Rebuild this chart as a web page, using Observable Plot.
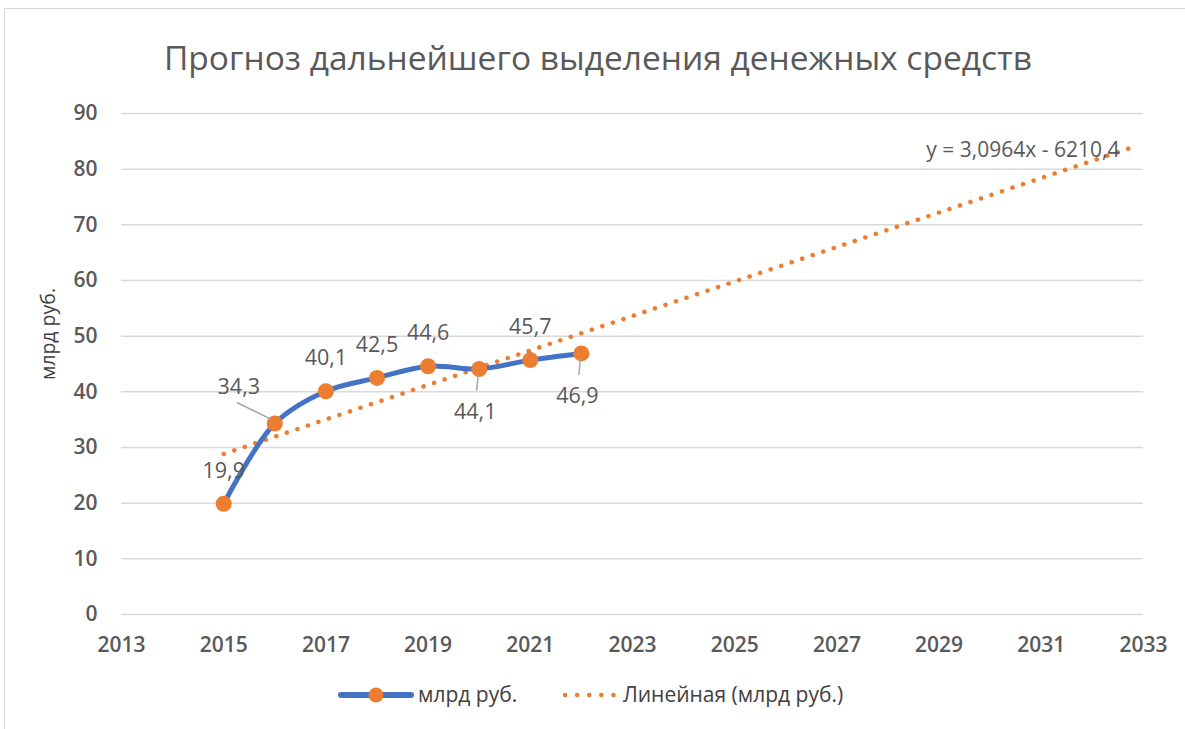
<!DOCTYPE html>
<html>
<head>
<meta charset="utf-8">
<script src="https://cdn.jsdelivr.net/npm/d3@7"></script>
<script src="https://cdn.jsdelivr.net/npm/@observablehq/plot@0.6"></script>
<style>
  html, body { margin: 0; padding: 0; background: #fff; }
  #wrap { position: relative; width: 1185px; height: 729px; overflow: hidden; font-family: "Open Sans", sans-serif; color: #595959; }
  #border { position: absolute; left: 4px; top: 8px; width: 1400px; height: 800px; border-left: 1.5px solid #d9d9d9; border-top: 1.5px solid #d9d9d9; }
  #title { position: absolute; left: 0; width: 1196px; top: 34px; text-align: center; font-size: 33.5px; color: #595959; white-space: nowrap; }
  #ylabel { position: absolute; left: 47px; top: 334px; transform: translate(-50%, -50%) rotate(-90deg); font-size: 19.5px; color: #404040; white-space: nowrap; }
  #chart { position: absolute; left: 0; top: 0; }
  #legend { position: absolute; left: 0; top: 680px; width: 1185px; height: 30px; font-size: 21px; color: #404040; }
  .lg { position: absolute; top: 0px; white-space: nowrap; }
</style>
</head>
<body>
<div id="wrap">
  <div id="border"></div>
  <div id="chart"></div>
  <div id="title"></div>
  <div id="ylabel"></div>
  <div id="legend"></div>
</div>
<script>
const titleText = "Прогноз дальнейшего выделения денежных средств";
const yAxisLabel = "млрд руб.";
const seriesName = "млрд руб.";
const trendName = "Линейная (млрд руб.)";
const trendEquation = "y = 3,0964x - 6210,4";

const years = [2015, 2016, 2017, 2018, 2019, 2020, 2021, 2022];
const values = [19.9, 34.3, 40.1, 42.5, 44.6, 44.1, 45.7, 46.9];
const labelPlacement = ["above", "above-left", "above", "above", "above", "below", "above", "below"];

const trendYears = [2015, 2032.9];
const trendValues = [28.85, 84.3];

const xTicks = [2013, 2015, 2017, 2019, 2021, 2023, 2025, 2027, 2029, 2031, 2033];
const yTicks = [0, 10, 20, 30, 40, 50, 60, 70, 80, 90];

const BLUE = "#4472C4", ORANGE = "#ED7D31", TEXT = "#595959", GRID = "#d9d9d9";

const series = years.map((x, i) => ({x, y: values[i], label: String(values[i]).replace(".", ","), place: labelPlacement[i]}));
const trend = trendYears.map((x, i) => ({x, y: trendValues[i]}));

const leaderShape = { draw(context, l) { context.moveTo(0, 0); context.lineTo(0, -l); } };
const leaderCfg = {
  "above-left": {dx: -5, dy: -5, rotate: -64, length: 36},
  "below": {dx: -1, dy: 6, rotate: 186, length: 15}
};
const labelCfg = {
  "above": {dx: 0, dy: -33},
  "above-left": {dx: -36, dy: -36},
  "below": {dx: -4, dy: 43}
};

const marks = [
  Plot.gridY(yTicks, {stroke: GRID, strokeOpacity: 1, strokeWidth: 1.5}),
  Plot.axisY(yTicks, {tickSize: 0, tickPadding: 24, label: null, fontSize: 21, fontWeight: 600, fill: TEXT}),
  Plot.axisX(xTicks, {tickSize: 0, tickPadding: 23, label: null, fontSize: 21, fontWeight: 600, fill: TEXT, tickFormat: d => String(d)}),
  Plot.line(trend, {x: "x", y: "y", stroke: ORANGE, strokeWidth: 4.5, strokeDasharray: "0.1 11", strokeLinecap: "round"}),
  Plot.line(series, {x: "x", y: "y", stroke: BLUE, strokeWidth: 5, curve: "catmull-rom"}),
  Plot.dot(series, {x: "x", y: "y", r: 8, fill: ORANGE, stroke: null})
];
for (const [place, c] of Object.entries(leaderCfg)) {
  marks.push(Plot.vector(series.filter(d => d.place === place), {
    x: "x", y: "y", anchor: "start", shape: leaderShape, length: c.length, rotate: c.rotate,
    dx: c.dx, dy: c.dy, stroke: "#a6a6a6", strokeWidth: 1.5
  }));
}
for (const [place, c] of Object.entries(labelCfg)) {
  marks.push(Plot.text(series.filter(d => d.place === place), {
    x: "x", y: "y", text: "label", dx: c.dx, dy: c.dy, fontSize: 21.5, fill: TEXT,
    textAnchor: "middle", lineAnchor: "middle"
  }));
}
marks.push(Plot.text([trend[trend.length - 1]], {
  x: "x", y: "y", text: () => trendEquation, dx: -19, dy: 5, textAnchor: "end", lineAnchor: "middle",
  fontSize: 21, fill: TEXT
}));

const chart = Plot.plot({
  width: 1185, height: 729,
  marginTop: 113, marginBottom: 115, marginLeft: 121, marginRight: 42,
  x: {domain: [2013, 2033]},
  y: {domain: [0, 90]},
  style: {fontFamily: "Open Sans", fontSize: "18px", color: TEXT, background: "transparent"},
  marks
});
document.getElementById("chart").appendChild(chart);
document.getElementById("title").textContent = titleText;
document.getElementById("ylabel").textContent = yAxisLabel;

// legend
const legend = document.getElementById("legend");
const ns = "http://www.w3.org/2000/svg";
function swatch(left, width, build) {
  const s = document.createElementNS(ns, "svg");
  s.setAttribute("width", width); s.setAttribute("height", 30);
  s.style.position = "absolute"; s.style.left = left + "px"; s.style.top = "0px";
  build(s); legend.appendChild(s);
}
swatch(338, 76, s => {
  s.innerHTML = `<line x1="3" x2="73" y1="15" y2="15" stroke="${BLUE}" stroke-width="6" stroke-linecap="round"/><circle cx="38" cy="15" r="7.5" fill="${ORANGE}"/>`;
});
swatch(558, 64, s => {
  s.innerHTML = `<line x1="7" x2="60" y1="15" y2="15" stroke="${ORANGE}" stroke-width="4.5" stroke-dasharray="0.1 12" stroke-linecap="round"/>`;
});
const t1 = document.createElement("div"); t1.className = "lg"; t1.style.left = "418px"; t1.textContent = seriesName; legend.appendChild(t1);
const t2 = document.createElement("div"); t2.className = "lg"; t2.style.left = "623px"; t2.textContent = trendName; legend.appendChild(t2);
</script>
</body>
</html>
